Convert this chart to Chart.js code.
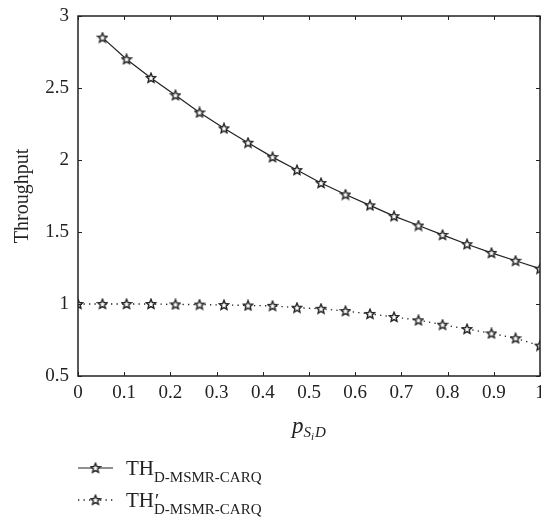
<!DOCTYPE html>
<html>
<head>
<meta charset="utf-8">
<script src="https://cdn.jsdelivr.net/npm/chart.js@4.4.1/dist/chart.umd.min.js"></script>
<style>
	html, body { margin: 0; padding: 0; background: #fff; }
	#wrap { width: 541px; height: 517px; }
</style>
</head>
<body>
<div id="wrap"><canvas id="throughput-grafica" width="541" height="517"></canvas></div>
<script>
	// p_SiD sample points
	const pValues = [0, 0.053, 0.105, 0.158, 0.211, 0.263, 0.316, 0.368, 0.421, 0.474, 0.526, 0.579, 0.632, 0.684, 0.737, 0.789, 0.842, 0.895, 0.947, 1];
	const thValues = [null, 2.85, 2.70, 2.57, 2.45, 2.33, 2.22, 2.12, 2.02, 1.93, 1.84, 1.76, 1.685, 1.61, 1.545, 1.48, 1.415, 1.355, 1.30, 1.245];
	const thPrimeValues = [1.0, 1.0, 1.0, 1.0, 0.997, 0.996, 0.993, 0.99, 0.987, 0.974, 0.967, 0.951, 0.931, 0.910, 0.887, 0.856, 0.826, 0.796, 0.762, 0.711];
	const legendNames = ["TH", "TH′"];
	const legendSub = "D-MSMR-CARQ";

	const serif = "'Liberation Serif', 'DejaVu Serif', serif";
	const ink = "#222";

	function estrella(size) {
		const c = document.createElement("canvas");
		c.width = size;
		c.height = size;
		const g = c.getContext("2d");
		const cx = size / 2, cy = size / 2 + 0.3;
		const R = size / 2 - 1, r = R * 0.45;
		g.beginPath();
		for (let i = 0; i < 10; i++) {
			const rad = i % 2 === 0 ? R : r;
			const a = -Math.PI / 2 + i * Math.PI / 5;
			const px = cx + rad * Math.cos(a), py = cy + rad * Math.sin(a);
			if (i === 0) g.moveTo(px, py); else g.lineTo(px, py);
		}
		g.closePath();
		g.fillStyle = "#fff";
		g.fill();
		g.lineWidth = 1.4;
		g.strokeStyle = ink;
		g.stroke();
		return c;
	}
	const star = estrella(12);

	function puntos(valores) {
		const out = [];
		pValues.forEach((p, i) => {
			if (valores[i] !== null) out.push({ x: p, y: valores[i] });
		});
		return out;
	}

	const etiqueta = (v) => String(+Number(v).toFixed(1));
	const sinPadding = (scale) => {
		scale.paddingLeft = 0;
		scale.paddingRight = 0;
		scale.paddingTop = 0;
		scale.paddingBottom = 0;
	};

	// frame + inward tick marks
	const marco = {
		id: "marco",
		afterDatasetsDraw(chart) {
			const { ctx, chartArea: a, scales } = chart;
			ctx.save();
			ctx.strokeStyle = ink;
			ctx.lineWidth = 1.5;
			ctx.strokeRect(a.left, a.top, a.right - a.left, a.bottom - a.top);
			ctx.lineWidth = 1;
			ctx.beginPath();
			scales.x.ticks.forEach((t) => {
				const px = Math.round(scales.x.getPixelForValue(t.value)) + 0.5;
				ctx.moveTo(px, a.bottom); ctx.lineTo(px, a.bottom - 4);
				ctx.moveTo(px, a.top); ctx.lineTo(px, a.top + 4);
			});
			scales.y.ticks.forEach((t) => {
				const py = Math.round(scales.y.getPixelForValue(t.value)) + 0.5;
				ctx.moveTo(a.left, py); ctx.lineTo(a.left + 4, py);
				ctx.moveTo(a.right, py); ctx.lineTo(a.right - 4, py);
			});
			ctx.stroke();
			ctx.restore();
		},
		afterDraw(chart) {
			const { ctx, chartArea: a } = chart;
			ctx.save();
			ctx.fillStyle = ink;
			ctx.textBaseline = "alphabetic";

			// x axis title p_{S_i D}
			const parts = [
				{ t: "p", f: "italic 23px " + serif, dy: 0 },
				{ t: "S", f: "italic 15px " + serif, dy: 4 },
				{ t: "i", f: "italic 11px " + serif, dy: 7 },
				{ t: "D", f: "italic 15px " + serif, dy: 4 },
			];
			let w = 0;
			parts.forEach((p) => { ctx.font = p.f; w += ctx.measureText(p.t).width + (p.t === "i" ? 1 : 0); });
			let x = (a.left + a.right) / 2 - w / 2;
			parts.forEach((p) => {
				ctx.font = p.f;
				ctx.fillText(p.t, x, 433 + p.dy);
				x += ctx.measureText(p.t).width + (p.t === "i" ? 1 : 0);
			});

			// legend
			const filas = [468, 500];
			chart.data.datasets.forEach((ds, i) => {
				const y = filas[i];
				ctx.strokeStyle = ink;
				ctx.lineWidth = ds.borderWidth;
				ctx.setLineDash(ds.borderDash || []);
				ctx.beginPath();
				ctx.moveTo(78, y);
				ctx.lineTo(113, y);
				ctx.stroke();
				ctx.setLineDash([]);
				ctx.drawImage(star, 95.5 - star.width / 2, y - star.height / 2);

				ctx.font = "21px " + serif;
				ctx.fillText("TH", 126, y + 7);
				const thw = ctx.measureText("TH").width;
				if (legendNames[i].endsWith("′")) {
					ctx.font = "19px " + serif;
					ctx.fillText("′", 126 + thw + 1, y + 7);
				}
				ctx.font = "15px " + serif;
				ctx.fillText(legendSub, 126 + thw, y + 14);
			});
			ctx.restore();
		},
	};

	const ctx = document.getElementById("throughput-grafica");

	new Chart(ctx, {
		type: "line",
		data: {
			datasets: [
				{
					label: legendNames[0] + " " + legendSub,
					data: puntos(thValues),
					borderColor: ink,
					borderWidth: 1.2,
					pointStyle: star,
					pointRadius: 6,
					tension: 0,
				},
				{
					label: legendNames[1] + " " + legendSub,
					data: puntos(thPrimeValues),
					borderColor: ink,
					borderWidth: 1.3,
					borderDash: [1.3, 4.2],
					pointStyle: star,
					pointRadius: 6,
					tension: 0,
				},
			],
		},
		options: {
			responsive: false,
			animation: false,
			layout: {
				autoPadding: false,
				padding: { top: 16, right: 1, bottom: 0, left: 0 },
			},
			scales: {
				x: {
					type: "linear",
					min: 0,
					max: 1,
					ticks: {
						stepSize: 0.1,
						padding: 6,
						color: ink,
						maxRotation: 0,
						autoSkip: false,
						callback: etiqueta,
						font: { family: serif, size: 19 },
					},
					grid: { display: false, drawTicks: false },
					border: { display: false },
					afterFit(scale) {
						scale.height = 141;
						sinPadding(scale);
					},
				},
				y: {
					min: 0.5,
					max: 3,
					ticks: {
						stepSize: 0.5,
						padding: 9,
						color: ink,
						callback: etiqueta,
						font: { family: serif, size: 19 },
					},
					grid: { display: false, drawTicks: false },
					border: { display: false },
					title: {
						display: true,
						text: "Throughput",
						color: ink,
						padding: { top: 11, bottom: 0 },
						font: { family: serif, size: 20 },
					},
					afterFit(scale) {
						scale.width = 78;
						sinPadding(scale);
					},
				},
			},
			plugins: {
				legend: { display: false },
				tooltip: { enabled: false },
			},
		},
		plugins: [marco],
	});
</script>
</body>
</html>
